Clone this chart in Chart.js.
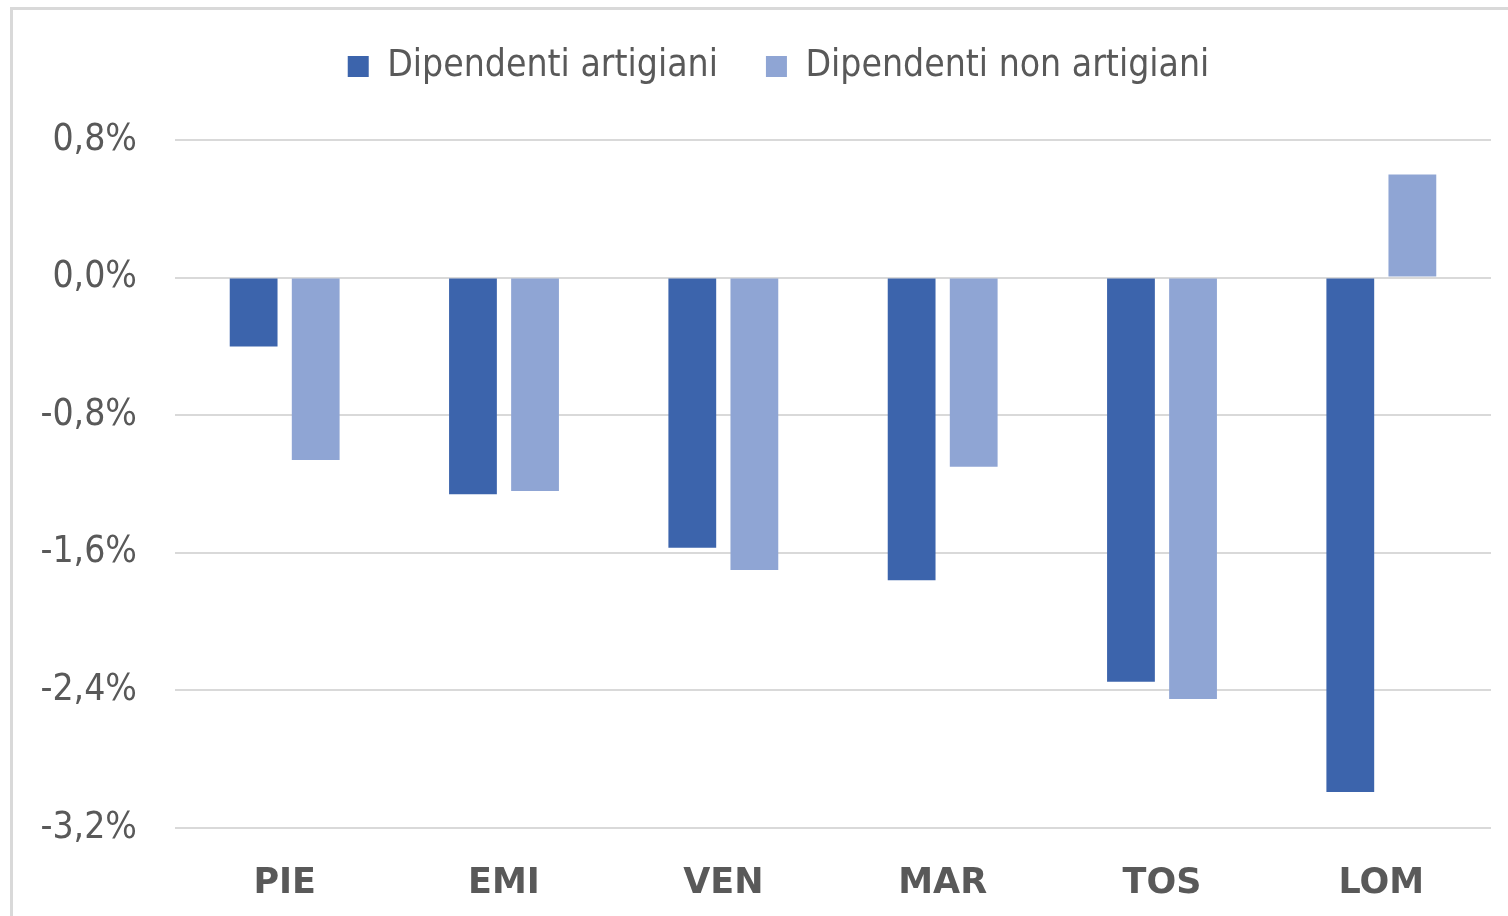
<!DOCTYPE html>
<html>
<head>
<meta charset="utf-8">
<script src="https://cdn.jsdelivr.net/npm/chart.js@4/dist/chart.umd.min.js"></script>
<style>
  html, body { margin: 0; padding: 0; background: #ffffff; overflow: hidden; }
  #frame { position: absolute; left: 10px; top: 7px; width: 1530px; height: 940px; border: 3px solid #d9d9d9; box-sizing: border-box; }
  #c { position: absolute; left: 0; top: 0; }
</style>
</head>
<body>
<div id="frame"></div>
<canvas id="c" width="1508" height="916"></canvas>
<script>
const categories = ["PIE", "EMI", "VEN", "MAR", "TOS", "LOM"];
const seriesNames = ["Dipendenti artigiani", "Dipendenti non artigiani"];
const artigiani = [-0.40, -1.26, -1.57, -1.76, -2.35, -2.99];
const nonArtigiani = [-1.06, -1.24, -1.70, -1.10, -2.45, 0.60];
const yTicks = [0.8, 0.0, -0.8, -1.6, -2.4, -3.2];

const FONT = "'DejaVu Sans Condensed', 'DejaVu Sans', sans-serif";
const TXT = "#595959";

const legendTweak = {
  id: 'legendTweak',
  beforeLayout(chart) {
    const lg = chart.legend;
    if (lg && !lg._patched) {
      const orig = lg.fit;
      lg.fit = function () { orig.call(this); this.height += 45; };
      lg._patched = true;
    }
  },
  afterLayout(chart) {
    const lg = chart.legend;
    if (lg) { lg.left += 33; lg.right += 33; }
  }
};

new Chart(document.getElementById('c'), {
  type: 'bar',
  data: {
    labels: categories,
    datasets: [
      { label: seriesNames[0], data: artigiani, backgroundColor: '#3c64ac', categoryPercentage: 0.566, barPercentage: 0.77 },
      { label: seriesNames[1], data: nonArtigiani, backgroundColor: '#8fa5d4', categoryPercentage: 0.566, barPercentage: 0.77 }
    ]
  },
  plugins: [legendTweak],
  options: {
    responsive: false,
    animation: false,
    devicePixelRatio: 1,
    layout: { padding: { left: 0, right: 17, top: 0, bottom: 0 } },
    plugins: {
      tooltip: { enabled: false },
      legend: {
        position: 'top',
        align: 'center',
        labels: {
          boxWidth: 21, boxHeight: 21, padding: 48,
          color: TXT,
          font: { family: FONT, size: 37 }
        }
      }
    },
    scales: {
      y: {
        min: -3.2, max: 0.8,
        afterBuildTicks: (s) => { s.ticks = yTicks.map(v => ({ value: v })); },
        afterFit: (s) => { s.width = 175; },
        grid: { color: '#d9d9d9', lineWidth: 2, drawTicks: false },
        border: { display: false },
        ticks: {
          padding: 38,
          color: TXT,
          font: { family: FONT, size: 37 },
          callback: (v) => v.toFixed(1).replace('.', ',').replace('-0,0', '0,0') + '%'
        }
      },
      x: {
        afterFit: (s) => { s.height = 88; },
        grid: { display: false, drawTicks: false },
        border: { display: false },
        ticks: {
          padding: 35,
          color: TXT,
          font: { family: "'DejaVu Sans', sans-serif", size: 35, weight: 'bold' }
        }
      }
    }
  }
});
</script>
</body>
</html>
